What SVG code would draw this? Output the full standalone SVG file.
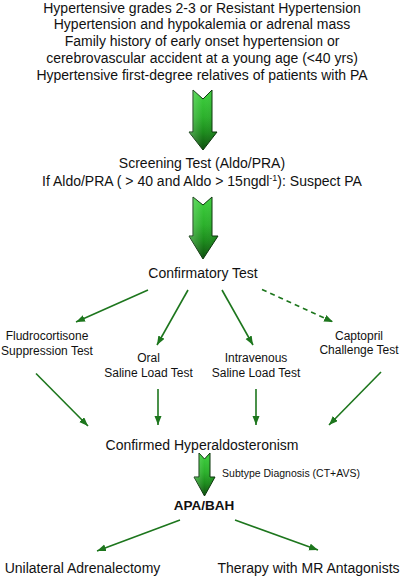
<svg xmlns="http://www.w3.org/2000/svg" width="400" height="577" viewBox="0 0 400 577">
<style>
text{font-family:"Liberation Sans",Arial,sans-serif;fill:#111;text-anchor:middle}
.t14{font-size:14px}
.t12{font-size:12px}
.sm{font-size:10.5px}
.b{font-size:13.5px;font-weight:bold}
.con{stroke:#1d761d;stroke-width:1.6;fill:none;marker-end:url(#ah)}
.dash{stroke-dasharray:5,4}
.big{fill:url(#gg);stroke:#0b360b;stroke-width:1}
</style>
<defs>
<marker id="ah" markerUnits="userSpaceOnUse" markerWidth="10" markerHeight="8" refX="9" refY="3.5" orient="auto">
<path d="M0,0 L9,3.5 L0,7 z" fill="#1d761d"/>
</marker>
<linearGradient id="gg" x1="0" y1="0" x2="0" y2="1">
<stop offset="0" stop-color="#3fd23f"/>
<stop offset="0.45" stop-color="#2bb02b"/>
<stop offset="0.7" stop-color="#1c8c1c"/>
<stop offset="1" stop-color="#0f4f0f"/>
</linearGradient>
<linearGradient id="hl" x1="0" y1="0" x2="1" y2="0">
<stop offset="0" stop-color="#fff" stop-opacity="0.25"/>
<stop offset="0.5" stop-color="#fff" stop-opacity="0"/>
<stop offset="1" stop-color="#000" stop-opacity="0.1"/>
</linearGradient>
</defs>

<g id="criteria">
<text class="t14" x="202" y="12.5">Hypertensive grades 2-3 or Resistant Hypertension</text>
<text class="t14" x="202" y="29">Hypertension and hypokalemia or adrenal mass</text>
<text class="t14" x="202" y="46">Family history of early onset hypertension or</text>
<text class="t14" x="202" y="63">cerebrovascular accident at a young age (&lt;40 yrs)</text>
<text class="t14" x="202" y="79.5">Hypertensive first-degree relatives of patients with PA</text>
</g>

<g id="screening">
<text class="t14" x="202" y="168">Screening Test (Aldo/PRA)</text>
<text class="t14" x="202" y="186">If Aldo/PRA ( &gt; 40 and Aldo &gt; 15ngdl<tspan dy="-5" font-size="9">-1</tspan><tspan dy="5">): Suspect PA</tspan></text>
</g>

<g id="confirmatory">
<text class="t14" x="203" y="278">Confirmatory Test</text>
</g>

<g id="fludro">
<text class="t12" x="47" y="340">Fludrocortisone</text>
<text class="t12" x="47" y="354.5">Suppression Test</text>
</g>
<g id="oral">
<text class="t12" x="148.5" y="361.5">Oral</text>
<text class="t12" x="148.5" y="376.5">Saline Load Test</text>
</g>
<g id="iv">
<text class="t12" x="256" y="361.5">Intravenous</text>
<text class="t12" x="256" y="376.5">Saline Load Test</text>
</g>
<g id="captopril">
<text class="t12" x="359" y="339.5">Captopril</text>
<text class="t12" x="359" y="354">Challenge Test</text>
</g>

<g id="confirmed">
<text class="t14" x="202" y="450">Confirmed Hyperaldosteronism</text>
</g>
<g id="subtype-label">
<text class="sm" x="291" y="477">Subtype Diagnosis (CT+AVS)</text>
</g>
<g id="apabah">
<text class="b" x="204" y="510">APA/BAH</text>
</g>
<g id="adrenalectomy">
<text class="t14" x="82.5" y="572.5">Unilateral Adrenalectomy</text>
</g>
<g id="therapy">
<text class="t14" x="308.5" y="572.5">Therapy with MR Antagonists</text>
</g>

<g id="connectors">
<path class="big" d="M193,90 L203,99 L212,90 L212,132 L217,132 L203,150 L189,132 L193,132 Z"/>
<path d="M193,90 L203,99 L212,90 L212,132 L217,132 L203,150 L189,132 L193,132 Z" fill="url(#hl)"/>
<path class="big" d="M193,197 L203,205 L212,197 L212,236 L218,236 L203,259 L189,236 L193,236 Z"/>
<path d="M193,197 L203,205 L212,197 L212,236 L218,236 L203,259 L189,236 L193,236 Z" fill="url(#hl)"/>
<path class="big" d="M199,453 L204.5,459 L210,453 L210,477 L215,477 L204.5,496 L194,477 L199,477 Z"/>
<path d="M199,453 L204.5,459 L210,453 L210,477 L215,477 L204.5,496 L194,477 L199,477 Z" fill="url(#hl)"/>

<line class="con" x1="148" y1="290" x2="76" y2="322"/>
<line class="con" x1="188" y1="290" x2="157" y2="345"/>
<line class="con" x1="222" y1="290" x2="253" y2="345"/>
<line class="con dash" x1="262" y1="289.5" x2="333" y2="322"/>
<line class="con" x1="36" y1="373.5" x2="88" y2="426"/>
<line class="con" x1="158" y1="389" x2="158" y2="425"/>
<line class="con" x1="256" y1="389" x2="256" y2="425"/>
<line class="con" x1="381" y1="372" x2="329" y2="425"/>
<line class="con" x1="180" y1="520" x2="97" y2="551"/>
<line class="con" x1="235" y1="520" x2="318" y2="550"/>
</g>
</svg>
